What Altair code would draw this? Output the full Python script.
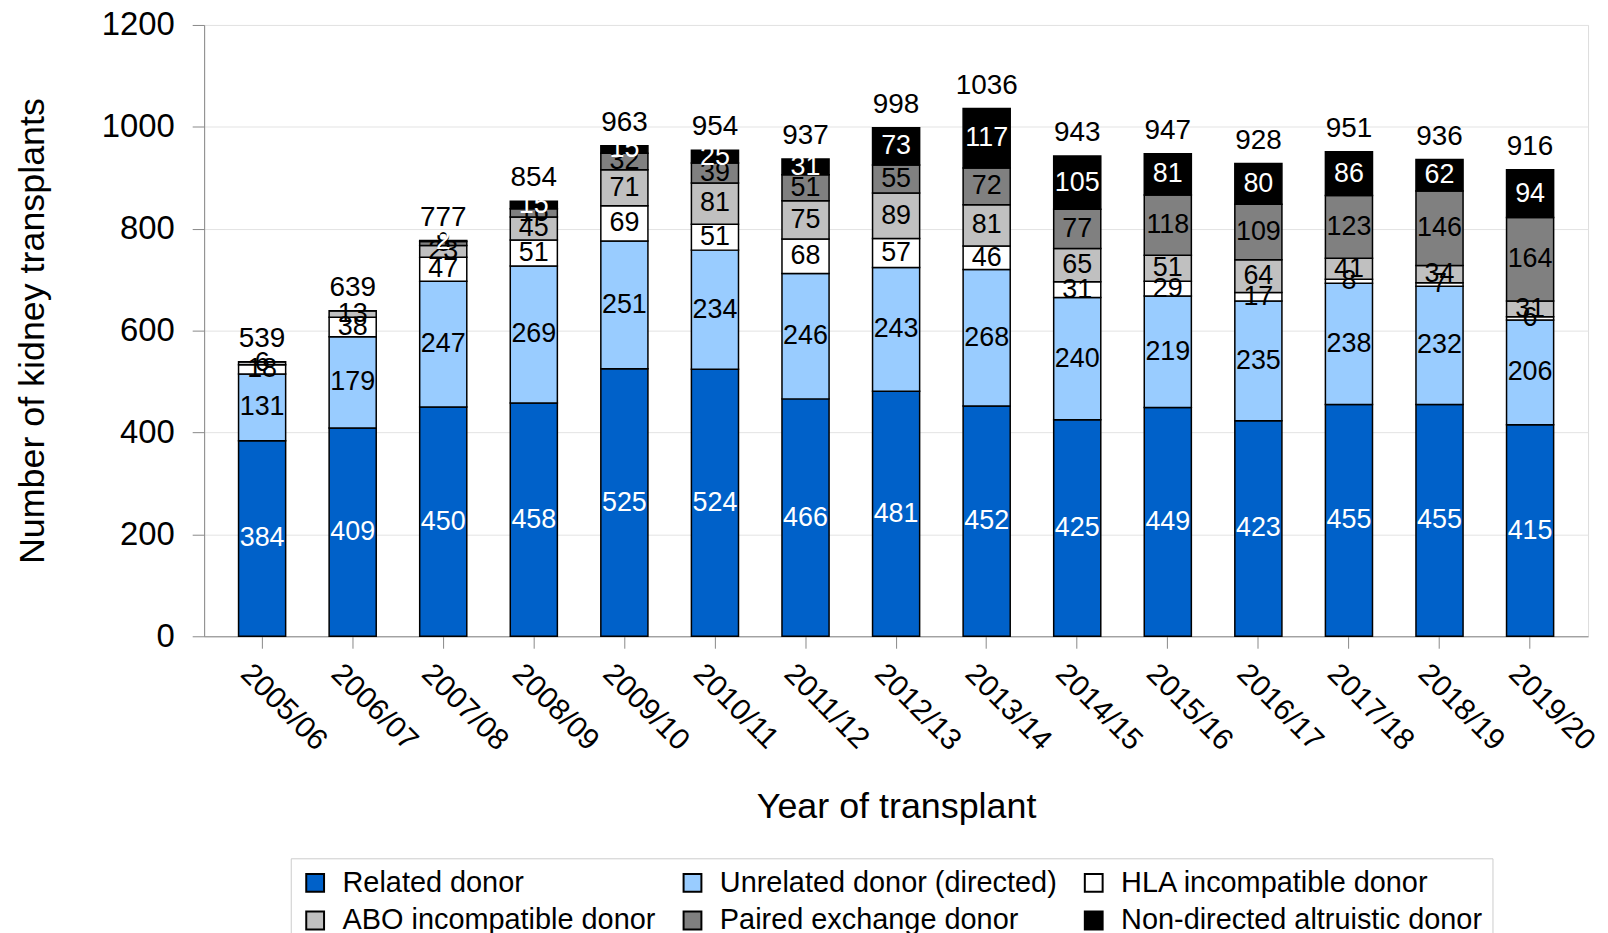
import altair as alt
import pandas as pd

years = ["2005/06", "2006/07", "2007/08", "2008/09", "2009/10", "2010/11", "2011/12",
         "2012/13", "2013/14", "2014/15", "2015/16", "2016/17", "2017/18", "2018/19", "2019/20"]
series = ["Related donor", "Unrelated donor (directed)", "HLA incompatible donor",
          "ABO incompatible donor", "Paired exchange donor", "Non-directed altruistic donor"]
related = [384, 409, 450, 458, 525, 524, 466, 481, 452, 425, 449, 423, 455, 455, 415]
unrelated = [131, 179, 247, 269, 251, 234, 246, 243, 268, 240, 219, 235, 238, 232, 206]
hla = [18, 38, 47, 51, 69, 51, 68, 57, 46, 31, 29, 17, 8, 7, 6]
abo = [6, 13, 23, 45, 71, 81, 75, 89, 81, 65, 51, 64, 41, 34, 31]
paired = [0, 0, 8, 16, 32, 39, 51, 55, 72, 77, 118, 109, 123, 146, 164]
altruistic = [0, 0, 2, 15, 15, 25, 31, 73, 117, 105, 81, 80, 86, 62, 94]
totals = [539, 639, 777, 854, 963, 954, 937, 998, 1036, 943, 947, 928, 951, 936, 916]

colors = ["#0061c9", "#99ccff", "#ffffff", "#c0c0c0", "#808080", "#000000"]
text_colors = ["#ffffff", "#000000", "#000000", "#000000", "#000000", "#ffffff"]

vals = [related, unrelated, hla, abo, paired, altruistic]
rows = []
for i, y in enumerate(years):
    base = 0
    for k, s in enumerate(series):
        v = vals[k][i]
        rows.append({"year": y, "series": s, "value": v, "start": base, "end": base + v,
                     "mid": base + v / 2, "order": k, "tcol": text_colors[k]})
        base += v
df = pd.DataFrame(rows)
tot = pd.DataFrame({"year": years, "total": totals})

FONT = "Liberation Sans"

xenc = alt.X("year:N", sort=years, title="Year of transplant",
             scale=alt.Scale(paddingInner=0.48, paddingOuter=0.38),
             axis=alt.Axis(labelAngle=45, labelAlign="left", labelBaseline="top",
                           labelFontSize=30, labelPadding=10, labelOffset=-6,
                           titleFontSize=36, titleFontWeight="normal", titlePadding=34,
                           tickSize=12, grid=False))

bars = alt.Chart(df).mark_bar(stroke="#000000", strokeWidth=1.5).encode(
    x=xenc,
    y=alt.Y("start:Q", title="Number of kidney transplants",
            scale=alt.Scale(domain=[0, 1200], nice=False),
            axis=alt.Axis(values=[0, 200, 400, 600, 800, 1000, 1200], format="d",
                          labelFontSize=33, titleFontSize=36, titleFontWeight="normal",
                          titlePadding=50, tickSize=12, labelPadding=18,
                          gridColor="#e3e3e3")),
    y2="end:Q",
    color=alt.Color("series:N", sort=series,
                    scale=alt.Scale(domain=series, range=colors),
                    legend=alt.Legend(title=None, orient="none", legendX=87, legendY=837,
                                      columns=3, direction="horizontal",
                                      symbolType="square", symbolSize=320,
                                      symbolStrokeColor="#000000", symbolStrokeWidth=2,
                                      labelFontSize=29, labelFont=FONT, labelLimit=0,
                                      labelOffset=13, columnPadding=22, rowPadding=8,
                                      strokeColor="#cccccc", padding=10,
                                      fillColor="#ffffff")),
)

seg_text = alt.Chart(df).transform_filter("datum.value > 0").mark_text(
    fontSize=27, font=FONT, baseline="middle").encode(
    x=alt.X("year:N", sort=years),
    y=alt.Y("mid:Q"),
    text=alt.Text("value:Q"),
    color=alt.Color("tcol:N", scale=None),
)

tot_text = alt.Chart(tot).mark_text(fontSize=28, font=FONT, baseline="middle", dy=-23,
                                    color="#000000").encode(
    x=alt.X("year:N", sort=years),
    y=alt.Y("total:Q"),
    text=alt.Text("total:Q"),
)

chart = alt.layer(bars, seg_text, tot_text).properties(
    width=1390, height=614,
    autosize=alt.AutoSizeParams(type="none"),
    padding={"left": 197, "top": 15, "right": 12, "bottom": 296},
).configure_axis(
    labelFont=FONT, titleFont=FONT, labelColor="#222222", titleColor="#222222",
    domainColor="#9aa3ab", tickColor="#9aa3ab",
).configure_axisX(domainWidth=1.5).configure_view(stroke=None).configure(
    background="#ffffff")

chart.save("out.html", embed_options={"renderer": "svg", "actions": False})
